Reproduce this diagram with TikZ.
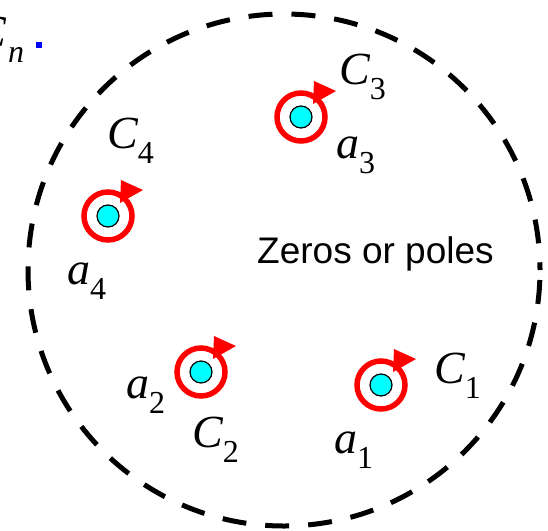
\documentclass[tikz,border=0pt]{standalone}
\usepackage{fontspec}
\setmainfont{Liberation Serif}
\newfontfamily\arialfont{Liberation Sans}
\definecolor{poleaqua}{RGB}{0,255,255}
\definecolor{ringred}{RGB}{255,0,0}
\definecolor{dotblue}{RGB}{0,0,255}
\newcommand{\mylbl}[2]{{\fontsize{46}{46}\selectfont\itshape #1}\raisebox{-15pt}{\fontsize{32}{32}\selectfont #2}}
\begin{document}
\begin{tikzpicture}[x=1pt,y=-1pt,
  pole/.style={circle, draw=black, line width=1.2pt, fill=poleaqua, minimum size=22pt, inner sep=0pt},
  ring/.style={draw=ringred, line width=5.5pt},
  ringtip/.style={fill=ringred},
  lbl/.style={anchor=base west, inner sep=0pt},
  boundary/.style={draw=black, line width=5pt, dash pattern=on 24pt off 19pt, dash phase=33pt}
]
\clip (0,0) rectangle (548,530);
\fill[white] (0,0) rectangle (548,530);
\coordinate (O) at (284,270);
\draw[boundary] (O) circle[radius=256];

% poles
\node[pole] (p1) at (381,385) {};
\node[pole] (p2) at (201,372) {};
\node[pole] (p3) at (301,117) {};
\node[pole] (p4) at (108,216) {};

\foreach \p in {p1,p2,p3,p4}{
  \draw[ring] (\p.center) circle[radius=24];
  \fill[ringtip, shift={(\p.center)}] (13,-36) -- (35,-26) -- (12,-13) -- cycle;
}

% labels
\node[lbl] (lc1) at (434,383) {\mylbl{C}{1}};
\node[lbl] (lc2) at (192,447) {\mylbl{C}{2}};
\node[lbl] (lc3) at (339,84) {\mylbl{C}{3}};
\node[lbl] (lc4) at (107,148) {\mylbl{C}{4}};
\node[lbl] (la1) at (334,453) {\mylbl{a}{1}};
\node[lbl] (la2) at (126,398) {\mylbl{a}{2}};
\node[lbl] (la3) at (336,158) {\mylbl{a}{3}};
\node[lbl] (la4) at (67,284) {\mylbl{a}{4}};
\node[lbl] (lcn) at (-25,47) {\fontsize{46}{46}\selectfont\itshape C};
\node[lbl] (lcnsub) at (8,62) {\fontsize{32}{32}\selectfont\itshape n};
\fill[dotblue] (36,42) rectangle (42,48);

\node[lbl] (zp) at (257,263) {\arialfont\fontsize{37}{37}\selectfont Zeros or poles};
\end{tikzpicture}
\end{document}
